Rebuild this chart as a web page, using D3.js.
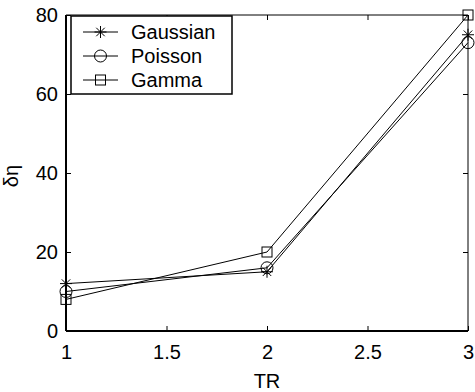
<!DOCTYPE html>
<html>
<head>
<meta charset="utf-8">
<script src="https://cdn.jsdelivr.net/npm/d3@7"></script>
<style>
  body { margin: 0; background: #fff; }
  svg text { font-family: "Liberation Sans", Arial, sans-serif; fill: #000; }
</style>
</head>
<body>
<figure id="chart" style="margin:0"></figure>
<script>
// values
const trValues = [1, 2, 3];
const gaussian = [12, 15, 75];
const poisson = [10, 16, 73];
const gamma = [8, 20, 80];
const seriesNames = ["Gaussian", "Poisson", "Gamma"];
const xTicks = [1, 1.5, 2, 2.5, 3];
const yTicks = [0, 20, 40, 60, 80];

const width = 475, height = 392;
const margin = { left: 66, top: 15, right: 7, bottom: 61 };
const innerW = width - margin.left - margin.right;
const innerH = height - margin.top - margin.bottom;
const fontSize = "20px";

const svg = d3.select("figure#chart")
  .append("svg")
  .attr("width", width)
  .attr("height", height);

const g = svg.append("g")
  .attr("transform", "translate(" + margin.left + "," + margin.top + ")");

const x = d3.scaleLinear().domain([1, 3]).range([0, innerW]);
const y = d3.scaleLinear().domain([0, 80]).range([innerH, 0]);

// ticks pointing inwards, on all four sides
const tickLen = 5;
g.append("g")
  .attr("transform", "translate(0," + innerH + ")")
  .call(d3.axisBottom(x).tickValues(xTicks).tickSizeInner(-tickLen).tickSizeOuter(0).tickPadding(14).tickFormat(d3.format("")))
  .call(a => a.select(".domain").remove())
  .selectAll("text").style("font-size", fontSize);
g.append("g")
  .call(d3.axisTop(x).tickValues(xTicks).tickSizeInner(-tickLen).tickSizeOuter(0).tickFormat(""))
  .call(a => a.select(".domain").remove());
g.append("g")
  .call(d3.axisLeft(y).tickValues(yTicks).tickSizeInner(-tickLen).tickSizeOuter(0).tickPadding(8))
  .call(a => a.select(".domain").remove())
  .selectAll("text").style("font-size", fontSize);
g.append("g")
  .attr("transform", "translate(" + innerW + ",0)")
  .call(d3.axisRight(y).tickValues(yTicks).tickSizeInner(-tickLen).tickSizeOuter(0).tickFormat(""))
  .call(a => a.select(".domain").remove());

// frame
g.append("line").attr("x1", 0).attr("x2", innerW).attr("y1", 0).attr("y2", 0).attr("stroke", "#000").attr("stroke-width", 1);
g.append("line").attr("x1", innerW).attr("x2", innerW).attr("y1", 0).attr("y2", innerH).attr("stroke", "#000").attr("stroke-width", 1);
g.append("line").attr("x1", 0).attr("x2", innerW).attr("y1", innerH).attr("y2", innerH).attr("stroke", "#000").attr("stroke-width", 2);
g.append("line").attr("x1", 0).attr("x2", 0).attr("y1", 0).attr("y2", innerH).attr("stroke", "#000").attr("stroke-width", 2);

// marker drawers
function drawMarker(sel, type, cx, cy) {
  if (type === "Gaussian") {
    const r = 6;
    for (let i = 0; i < 4; i++) {
      const a = i * Math.PI / 4;
      sel.append("line")
        .attr("x1", cx - r * Math.cos(a)).attr("y1", cy - r * Math.sin(a))
        .attr("x2", cx + r * Math.cos(a)).attr("y2", cy + r * Math.sin(a))
        .attr("stroke", "#000").attr("stroke-width", 1);
    }
  } else if (type === "Poisson") {
    sel.append("circle").attr("cx", cx).attr("cy", cy).attr("r", 6)
      .attr("fill", "none").attr("stroke", "#000").attr("stroke-width", 1);
  } else {
    sel.append("rect").attr("x", cx - 5).attr("y", cy - 5).attr("width", 10).attr("height", 10)
      .attr("fill", "none").attr("stroke", "#000").attr("stroke-width", 1);
  }
}

const allSeries = [gaussian, poisson, gamma];
const line = d3.line().x((d, i) => x(trValues[i])).y(d => y(d));

allSeries.forEach((vals, k) => {
  g.append("path")
    .attr("d", line(vals))
    .attr("fill", "none")
    .attr("stroke", "#000")
    .attr("stroke-width", 1);
  vals.forEach((v, i) => drawMarker(g, seriesNames[k], x(trValues[i]), y(v)));
});

// legend
const legend = g.append("g").attr("transform", "translate(5,1)");
legend.append("rect")
  .attr("x", 0).attr("y", 0).attr("width", 161).attr("height", 78)
  .attr("fill", "#fff").attr("stroke", "#000").attr("stroke-width", 1.5);
seriesNames.forEach((name, k) => {
  const ly = 16 + k * 24;
  legend.append("line").attr("x1", 12).attr("x2", 47).attr("y1", ly).attr("y2", ly)
    .attr("stroke", "#000").attr("stroke-width", 1);
  drawMarker(legend, name, 29.5, ly);
  legend.append("text").attr("x", 60).attr("y", ly).attr("dy", "0.35em")
    .style("font-size", fontSize).text(name);
});

// axis titles
svg.append("text")
  .attr("x", margin.left + innerW / 2).attr("y", 388)
  .attr("text-anchor", "middle").style("font-size", fontSize).text("TR");
svg.append("text")
  .attr("transform", "translate(18," + (margin.top + innerH / 2 + 3) + ") rotate(-90)")
  .attr("text-anchor", "middle").style("font-size", fontSize).text("δη");
</script>
</body>
</html>
